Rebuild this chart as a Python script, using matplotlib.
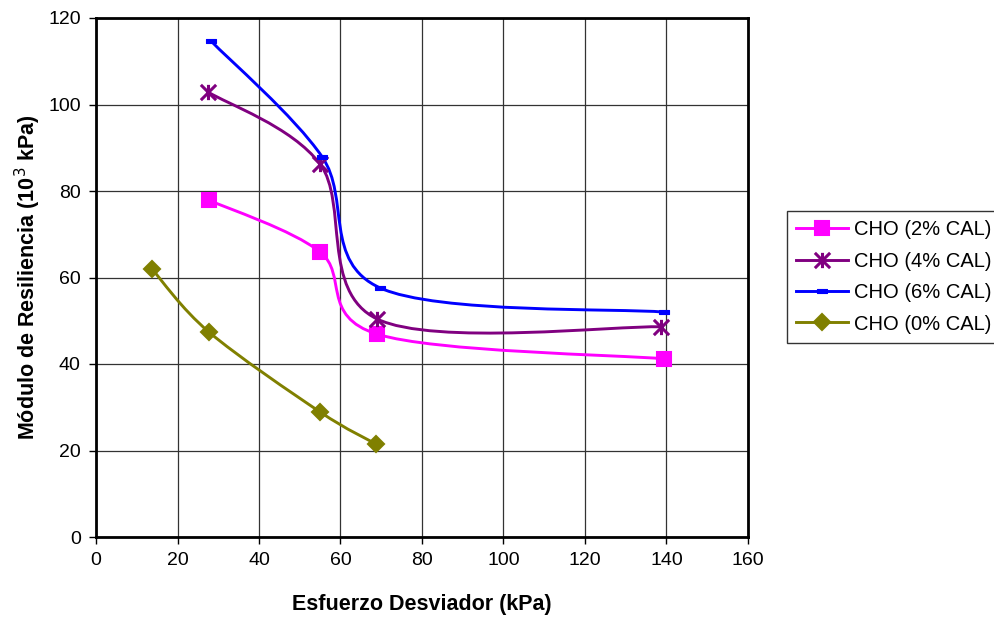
import matplotlib.pyplot as plt
from matplotlib.path import Path
from matplotlib.patches import PathPatch
import numpy as np

plt.rcParams['font.family'] = ['Liberation Sans', 'DejaVu Sans']

# datos
x_2 = [27.7, 55.0, 69.0, 139.4]
y_2 = [77.9, 65.9, 46.9, 41.2]
x_4 = [27.5, 55.0, 69.0, 138.7]
y_4 = [102.9, 86.2, 50.4, 48.6]
x_6 = [28.2, 55.5, 69.7, 139.4]
y_6 = [114.7, 87.9, 57.6, 52.0]
x_0 = [13.7, 27.7, 55.0, 68.7]
y_0 = [62.0, 47.4, 28.9, 21.5]

labels = ['CHO (2% CAL)', 'CHO (4% CAL)', 'CHO (6% CAL)', 'CHO (0% CAL)']
colours = ['#FF00FF', '#800080', '#0000FF', '#808000']

# marcador rectangular corto (tipo guion de Excel)
dash_marker = Path([(-1, -0.5), (1, -0.5), (1, 0.5), (-1, 0.5), (-1, -0.5)],
                   [Path.MOVETO, Path.LINETO, Path.LINETO, Path.LINETO, Path.CLOSEPOLY])
# estrella de Excel: aspa + linea vertical
star_marker = Path([(-1, -1), (1, 1), (-1, 1), (1, -1), (0, -1), (0, 1)],
                   [Path.MOVETO, Path.LINETO, Path.MOVETO, Path.LINETO, Path.MOVETO, Path.LINETO])
markers = ['s', star_marker, dash_marker, 'D']
msizes = [10.5, 11, 7, 8]
medges = [1.5, 2.2, 0.8, 1.5]


def smooth_path(xs, ys):
    # curva suavizada al estilo Excel (Bezier tipo Catmull-Rom)
    p = np.column_stack([xs, ys])
    n = len(p)
    verts = [p[0]]
    codes = [Path.MOVETO]
    for i in range(n - 1):
        p0 = p[i - 1] if i > 0 else p[i]
        p1 = p[i]
        p2 = p[i + 1]
        p3 = p[i + 2] if i + 2 < n else p[i + 1]
        c1 = p1 + (p2 - p0) / 6.0
        c2 = p2 - (p3 - p1) / 6.0
        verts += [c1, c2, p2]
        codes += [Path.CURVE4] * 3
    return Path(verts, codes)


fig = plt.figure(figsize=(9.94, 6.2), dpi=100)
ax = fig.add_axes([96 / 994, 1 - 537 / 620, (748 - 96) / 994, (537 - 18) / 620])

series = [(x_2, y_2), (x_4, y_4), (x_6, y_6), (x_0, y_0)]
handles = []
for (xs, ys), c, m, ms, mw, lab in zip(series, colours, markers, msizes, medges, labels):
    ax.add_patch(PathPatch(smooth_path(xs, ys), fill=False, edgecolor=c, lw=2.1, zorder=3))
    ax.plot(xs, ys, ls='none', marker=m, ms=ms, color=c, mec=c, mew=mw, zorder=4)
    h, = ax.plot([], [], color=c, lw=2.1, marker=m, ms=ms, mec=c, mew=mw, label=lab)
    handles.append(h)

ax.set_xlim(0, 160)
ax.set_ylim(0, 120)
ax.set_xticks(np.arange(0, 161, 20))
ax.set_yticks(np.arange(0, 121, 20))
ax.grid(True, color='#333333', lw=0.9)
ax.set_axisbelow(True)
for s in ax.spines.values():
    s.set_linewidth(2)
    s.set_color('black')
ax.tick_params(direction='out', length=5, width=1, labelsize=14, pad=6)

ax.set_xlabel('Esfuerzo Desviador (kPa)', fontsize=15.5, fontweight='bold', labelpad=18)
ax.set_ylabel('Módulo de Resiliencia (10$^3$ kPa)', fontsize=15.5, fontweight='bold', labelpad=4)

fig.legend(handles=handles, loc='upper left', bbox_to_anchor=(787 / 994, 1 - 211 / 620),
           bbox_transform=fig.transFigure, borderaxespad=0, fontsize=14.5,
           frameon=True, fancybox=False, edgecolor='black', handlelength=2.6,
           handletextpad=0.3, labelspacing=0.62, borderpad=0.45)

fig.savefig('out.png', dpi=100)
